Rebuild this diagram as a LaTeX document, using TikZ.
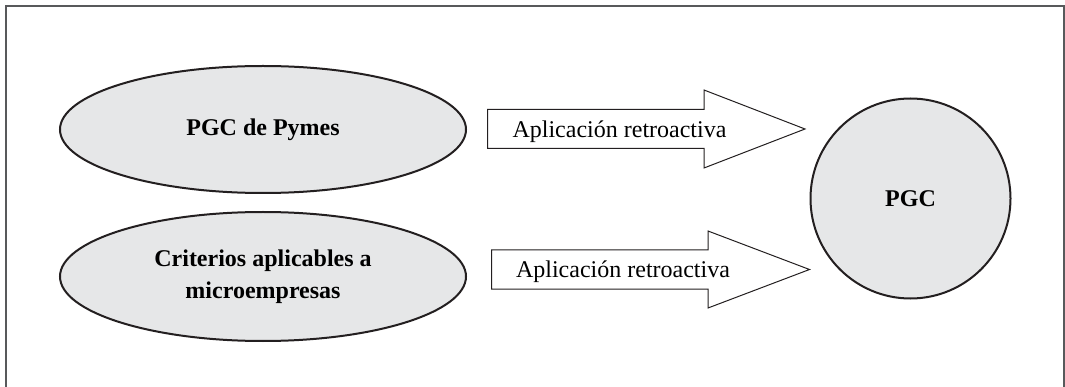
\documentclass[tikz,border=0pt]{standalone}
\usepackage{fontspec}
\setmainfont{Liberation Serif}
\usetikzlibrary{shapes.geometric}
\definecolor{planfill}{HTML}{E6E7E8}
\definecolor{planline}{HTML}{231F20}
\definecolor{marco}{HTML}{58595B}

\begin{document}
\begin{tikzpicture}[x=1pt,y=-1pt,
	plan/.style={draw=planline,line width=2pt,fill=planfill,inner sep=0pt,align=center,
		font=\fontsize{24}{32.3}\selectfont\bfseries},
	bloque/.style={draw=planline,line width=1pt,fill=white,line join=miter},
	rotulo/.style={font=\fontsize{24}{28}\selectfont,anchor=base,inner sep=0pt}]
		\useasboundingbox (0,0) rectangle (1065,387);
		\draw[marco,line width=2pt] (6,420) -- (6,6) -- (1064,6) -- (1064,420);
		\node[plan,ellipse,minimum width=406pt,minimum height=127pt] (pymes) at (263,129.5) {PGC de Pymes};
		\node[plan,ellipse,minimum width=406pt,minimum height=129pt] (micro) at (263,276.5) {Criterios aplicables a\\microempresas};
		\node[plan,circle,minimum size=200pt] (pgc) at (910.5,198.5) {PGC};
		\coordinate (f1) at (487.5,109.5);
		\coordinate (f2) at (491.5,250);
		\draw[bloque] (f1) -- ++(216.5,0) -- ++(0,-19.5) -- ++(101,39) -- ++(-101,39) -- ++(0,-19.5) -- ++(-216.5,0) -- cycle;
		\draw[bloque] (f2) -- ++(216.5,0) -- ++(0,-19) -- ++(101.5,38.5) -- ++(-101.5,38.5) -- ++(0,-19) -- ++(-216.5,0) -- cycle;
		\node[rotulo] (ap1) at (619.5,137.3) {Aplicación retroactiva};
		\node[rotulo] (ap2) at (623,277.7) {Aplicación retroactiva};
\end{tikzpicture}
\end{document}
